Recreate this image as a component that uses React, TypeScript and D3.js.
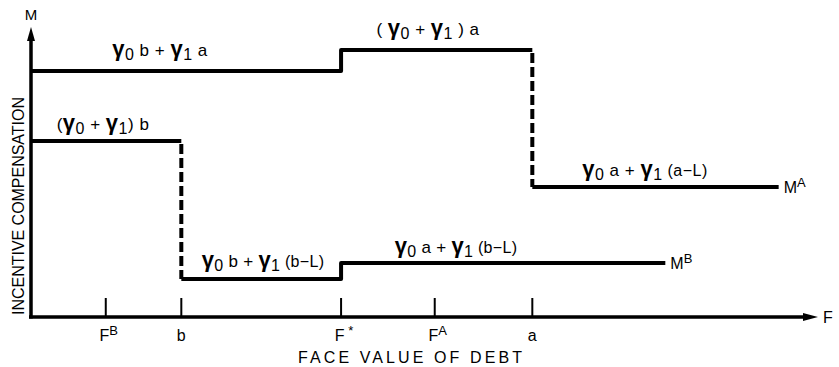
import React from "react";
import * as d3 from "d3";

// ---- data (abstract units) ----
const tickNames = ["FB", "b", "F*", "FA", "a"];
const tickValues = [9.5, 19.1, 39.4, 51.3, 63.7];

// Schedule M^A: breakpoints on debt axis and levels between them
const breaksA = [0, 39.4, 63.7, 95.0];
const levelsA = [84.8, 92.1, 44.8];
const dashedA = [false, true];

// Schedule M^B
const breaksB = [0, 19.1, 39.4, 80.6];
const levelsB = [60.7, 13.1, 18.6];
const dashedB = [true, false];

type Seg = { t: string; g?: boolean; sub?: boolean; sup?: boolean; small?: boolean };

const labelsA: Seg[][] = [
  [{ t: "γ", g: true }, { t: "0", sub: true }, { t: " b + " }, { t: "γ", g: true }, { t: "1", sub: true }, { t: " a" }],
  [{ t: "( " }, { t: "γ", g: true }, { t: "0", sub: true }, { t: " + " }, { t: "γ", g: true }, { t: "1", sub: true }, { t: " ) a" }],
  [{ t: "γ", g: true }, { t: "0", sub: true }, { t: " a + " }, { t: "γ", g: true }, { t: "1", sub: true }, { t: " (a−L)", small: true }],
];
const labelsB: Seg[][] = [
  [{ t: "(" }, { t: "γ", g: true }, { t: "0", sub: true }, { t: " + " }, { t: "γ", g: true }, { t: "1", sub: true }, { t: ") b" }],
  [{ t: "γ", g: true }, { t: "0", sub: true }, { t: " b + " }, { t: "γ", g: true }, { t: "1", sub: true }, { t: " (b−L)", small: true }],
  [{ t: "γ", g: true }, { t: "0", sub: true }, { t: " a + " }, { t: "γ", g: true }, { t: "1", sub: true }, { t: " (b−L)", small: true }],
];

const W = 839;
const H = 367;
const FONT = "'Liberation Sans', Arial, Helvetica, sans-serif";

const x = d3.scaleLinear().domain([0, 100]).range([31, 818]);
const y = d3.scaleLinear().domain([0, 100]).range([317, 27]);

function RichText({ segs, cx, by, size = 17, ls = 0 }: { segs: Seg[]; cx: number; by: number; size?: number; ls?: number }) {
  let shift = 0;
  return (
    <text x={cx} y={by} textAnchor="middle" fontFamily={FONT} fontSize={size} fill="#000" letterSpacing={ls}>
      {segs.map((s, i) => {
        let target = 0;
        if (s.sub) target = 4;
        if (s.sup) target = -6;
        const dy = target - shift;
        shift = target;
        const fs = s.g ? size + 5 : s.sub ? size - 1 : s.sup ? size - 3 : s.small ? size - 1 : size;
        return (
          <tspan key={i} dy={dy} fontSize={fs} fontWeight={s.g ? "bold" : "normal"} xmlSpace="preserve">
            {s.t}
          </tspan>
        );
      })}
    </text>
  );
}

function stepPaths(breaks: number[], levels: number[], dashed: boolean[]) {
  const solid = d3.path();
  const dash = d3.path();
  solid.moveTo(x(breaks[0]), y(levels[0]));
  for (let i = 0; i < levels.length; i++) {
    solid.lineTo(x(breaks[i + 1]), y(levels[i]));
    if (i < levels.length - 1) {
      const xv = x(breaks[i + 1]);
      if (dashed[i]) {
        dash.moveTo(xv, y(levels[i]));
        dash.lineTo(xv, y(levels[i + 1]));
        solid.moveTo(xv, y(levels[i + 1]));
      } else {
        solid.lineTo(xv, y(levels[i + 1]));
      }
    }
  }
  return { solid: solid.toString(), dash: dash.toString() };
}

export default function App() {
  const A = stepPaths(breaksA, levelsA, dashedA);
  const B = stepPaths(breaksB, levelsB, dashedB);
  const x0 = x(0);
  const y0 = y(0);
  const xEnd = x(100);
  const yTop = y(100);

  const tickLabel = (n: string) => {
    if (n === "FB") return [{ t: "F" }, { t: "B", sup: true }] as Seg[];
    if (n === "FA") return [{ t: "F" }, { t: "A", sup: true }] as Seg[];
    if (n === "F*") return [{ t: "F" }, { t: " *", sup: true }] as Seg[];
    return [{ t: n }] as Seg[];
  };

  return (
    <svg width={W} height={H} style={{ position: "absolute", left: 0, top: 0, background: "#fff" }}>
      <rect width={W} height={H} fill="#fff" />
      {/* axes */}
      <line x1={x0} y1={y0 + 1.5} x2={x0} y2={yTop + 10} stroke="#000" strokeWidth={3.5} />
      <path d={`M${x0},${yTop} L${x0 - 4},${yTop + 14} L${x0 + 4},${yTop + 14} Z`} fill="#000" />
      <line x1={x0 - 2} y1={y0} x2={xEnd - 10} y2={y0} stroke="#000" strokeWidth={3.5} />
      <path d={`M${xEnd},${y0} L${xEnd - 15},${y0 - 4} L${xEnd - 15},${y0 + 4} Z`} fill="#000" />
      <text x={x0} y={20} textAnchor="middle" fontFamily={FONT} fontSize={15}>M</text>
      <text x={xEnd + 10} y={y0 + 6} textAnchor="middle" fontFamily={FONT} fontSize={16}>F</text>

      {/* ticks */}
      {tickValues.map((v, i) => (
        <g key={i}>
          <line x1={x(v)} x2={x(v)} y1={y0} y2={y0 - 19} stroke="#000" strokeWidth={2} />
          <RichText segs={tickLabel(tickNames[i])} cx={x(v) + (tickNames[i].length > 1 ? 3 : 0)} by={341} size={16} />
        </g>
      ))}

      {/* axis titles */}
      <text x={410} y={363} textAnchor="middle" fontFamily={FONT} fontSize={16} textLength={224} lengthAdjust="spacing">
        FACE VALUE OF DEBT
      </text>
      <text
        transform={`translate(24,${(y0 + 95) / 2}) rotate(-90)`}
        textAnchor="middle"
        fontFamily={FONT}
        fontSize={16}
        textLength={218}
        lengthAdjust="spacing"
      >
        INCENTIVE COMPENSATION
      </text>

      {/* step schedules */}
      <path d={A.solid} fill="none" stroke="#000" strokeWidth={4} strokeLinejoin="round" />
      <path d={A.dash} fill="none" stroke="#000" strokeWidth={4} strokeDasharray="10 4" strokeDashoffset={-3} />
      <path d={B.solid} fill="none" stroke="#000" strokeWidth={4} strokeLinejoin="round" />
      <path d={B.dash} fill="none" stroke="#000" strokeWidth={4} strokeDasharray="10 4" strokeDashoffset={-3} />

      {/* end labels */}
      <RichText segs={[{ t: "M" }, { t: "A", sup: true }]} cx={x(breaksA[3]) + 16} by={y(levelsA[2]) + 6} size={16} />
      <RichText segs={[{ t: "M" }, { t: "B", sup: true }]} cx={x(breaksB[3]) + 16} by={y(levelsB[2]) + 6} size={16} />

      {/* segment labels */}
      <RichText segs={labelsA[0]} cx={160} by={y(levelsA[0]) - 15} ls={0.5} />
      <RichText segs={labelsA[1]} cx={428} by={y(levelsA[1]) - 15} ls={0.5} />
      <RichText segs={labelsA[2]} cx={645} by={y(levelsA[2]) - 11} ls={0.5} />
      <RichText segs={labelsB[0]} cx={103} by={y(levelsB[0]) - 11} ls={0.5} />
      <RichText segs={labelsB[1]} cx={263} by={y(levelsB[1]) - 12} ls={0.3} />
      <RichText segs={labelsB[2]} cx={456} by={y(levelsB[2]) - 10} ls={0.3} />
    </svg>
  );
}
